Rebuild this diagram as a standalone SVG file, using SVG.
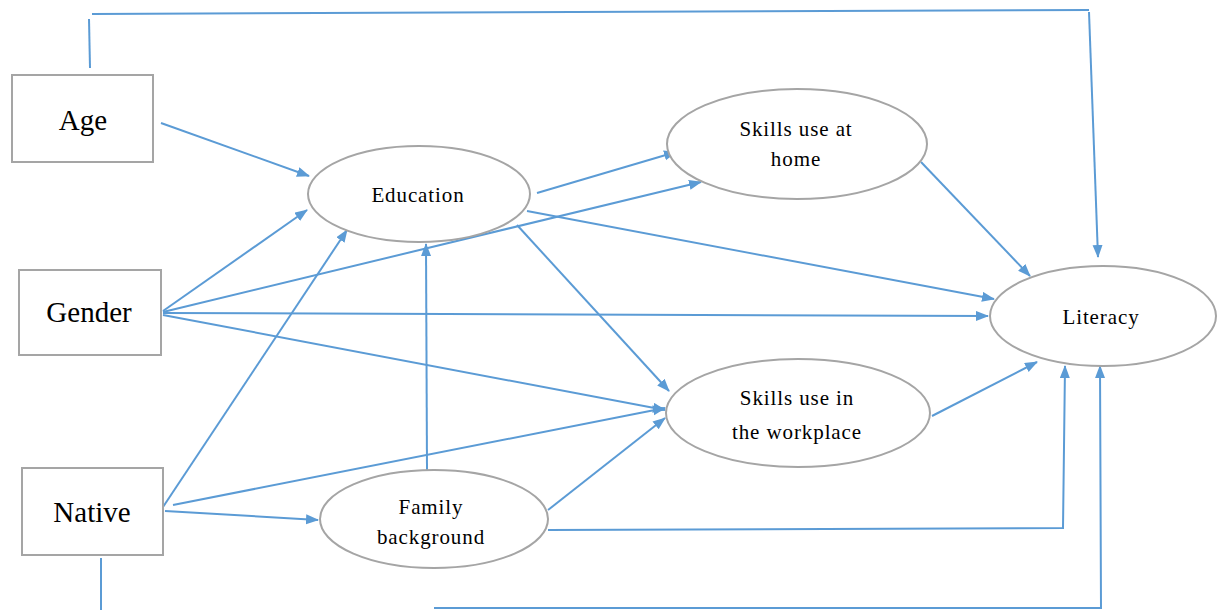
<svg xmlns="http://www.w3.org/2000/svg" width="1224" height="610" viewBox="0 0 1224 610">
<defs>
<marker id="ah" markerWidth="13" markerHeight="11" refX="12" refY="5" orient="auto" markerUnits="userSpaceOnUse">
<path d="M0,0 L13,5 L0,10 z" fill="#5B9BD5"/>
</marker>
<style>
.box{fill:#fff;stroke:#A5A5A5;stroke-width:2}
.ell{fill:#fff;stroke:#A5A5A5;stroke-width:2}
.c{fill:none;stroke:#5B9BD5;stroke-width:2}
.a{marker-end:url(#ah)}
.t{font-family:"Liberation Serif","Times New Roman",serif;fill:#000;text-anchor:middle}
.big{font-size:29px}
.sm{font-size:21px;letter-spacing:0.9px}
</style>
</defs>
<rect width="1224" height="610" fill="#fff"/>
<g id="connectors">
<polyline class="c" points="89,19 90,68"/>
<polyline class="c" points="92,14 1089,10"/>
<polyline class="c a" points="1089,12 1098,257"/>
<line class="c a" x1="161" y1="123" x2="309" y2="176"/>
<line class="c a" x1="163" y1="311" x2="307" y2="210"/>
<line class="c a" x1="163" y1="312" x2="701" y2="182"/>
<line class="c a" x1="163" y1="313" x2="988" y2="316"/>
<line class="c a" x1="163" y1="315" x2="665" y2="410"/>
<line class="c a" x1="163" y1="507" x2="347" y2="230"/>
<line class="c a" x1="173" y1="505" x2="665" y2="408"/>
<line class="c a" x1="165" y1="511" x2="318" y2="520"/>
<polyline class="c" points="101,558 101,610"/>
<polyline class="c a" points="434,608 1101,608 1100,366"/>
<line class="c a" x1="427" y1="470" x2="426" y2="244"/>
<line class="c a" x1="548" y1="510" x2="665" y2="418"/>
<polyline class="c a" points="548,530 1063,528 1065,366"/>
<line class="c a" x1="537" y1="193" x2="676" y2="152"/>
<line class="c a" x1="517" y1="225" x2="669" y2="391"/>
<line class="c a" x1="527" y1="211" x2="994" y2="299"/>
<line class="c a" x1="921" y1="162" x2="1030" y2="276"/>
<line class="c a" x1="932" y1="416" x2="1037" y2="362"/>
</g>
<g id="age"><rect class="box" x="12" y="75" width="141" height="87"/><text class="t big" x="83" y="130">Age</text></g>
<g id="gender"><rect class="box" x="19" y="270" width="142" height="85"/><text class="t big" x="89" y="322">Gender</text></g>
<g id="native"><rect class="box" x="22" y="468" width="141" height="87"/><text class="t big" x="92" y="522">Native</text></g>
<g id="education"><ellipse class="ell" cx="419" cy="194" rx="111" ry="48"/><text class="t sm" x="418" y="202">Education</text></g>
<g id="skills-home"><ellipse class="ell" cx="797" cy="144" rx="130" ry="55"/><text class="t sm" x="796" y="136">Skills use at</text><text class="t sm" x="796" y="166">home</text></g>
<g id="skills-work"><ellipse class="ell" cx="798" cy="413" rx="132" ry="54"/><text class="t sm" x="797" y="405">Skills use in</text><text class="t sm" x="797" y="439">the workplace</text></g>
<g id="family"><ellipse class="ell" cx="434" cy="519" rx="114" ry="49"/><text class="t sm" x="431" y="514">Family</text><text class="t sm" x="431" y="544">background</text></g>
<g id="literacy"><ellipse class="ell" cx="1103" cy="316" rx="113" ry="50"/><text class="t sm" x="1101" y="324">Literacy</text></g>
</svg>
